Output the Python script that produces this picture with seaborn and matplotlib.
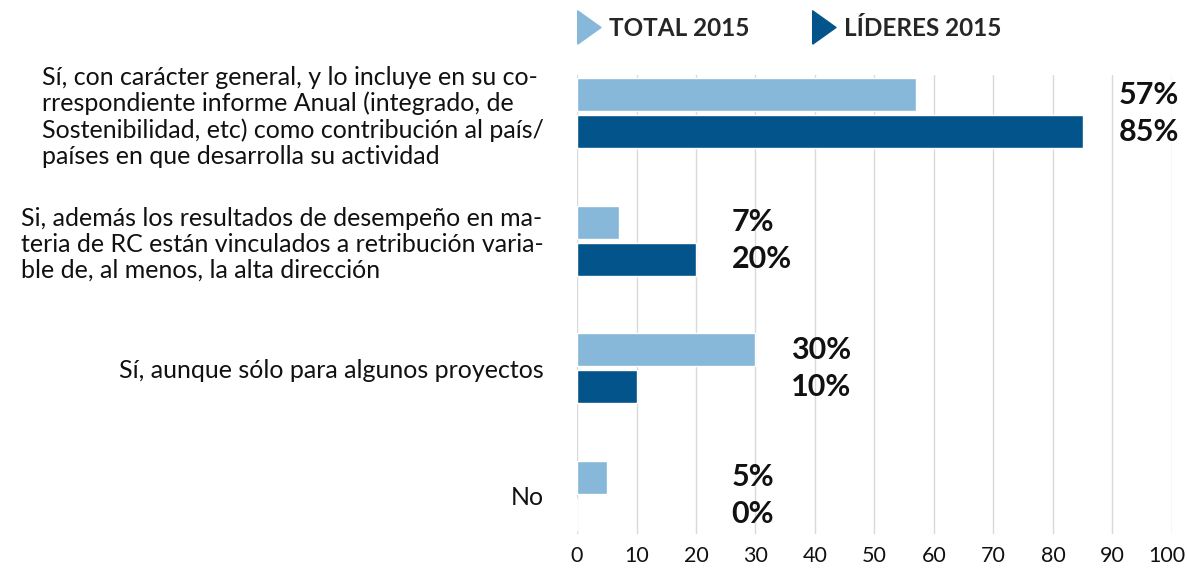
import matplotlib
matplotlib.use("Agg")
import matplotlib.pyplot as plt
import matplotlib.transforms as mtransforms
from matplotlib.lines import Line2D
import seaborn as sns
import pandas as pd

categories = [
    "Sí, con carácter general, y lo incluye en su co-\nrrespondiente informe Anual (integrado, de\nSostenibilidad, etc) como contribución al país/\npaíses en que desarrolla su actividad",
    "Si, además los resultados de desempeño en ma-\nteria de RC están vinculados a retribución varia-\nble de, al menos, la alta dirección",
    "Sí, aunque sólo para algunos proyectos",
    "No",
]
series_names = ["TOTAL 2015", "LÍDERES 2015"]
total_2015 = [57, 7, 30, 5]
lideres_2015 = [85, 20, 10, 0]
x_ticks = list(range(0, 101, 10))

colors = ["#87B7D9", "#02548A"]

df = pd.DataFrame({
    "cat": categories * 2,
    "serie": [series_names[0]] * 4 + [series_names[1]] * 4,
    "val": total_2015 + lideres_2015,
})

sns.set_theme(style="white")
plt.rcParams["font.family"] = ["Lato", "DejaVu Sans"]

fig = plt.figure(figsize=(11.87, 5.71), dpi=100)
ax = fig.add_axes([577 / 1187, 1 - 534 / 571, (1172 - 577) / 1187, (534 - 75) / 571])

sns.barplot(data=df, y="cat", x="val", hue="serie", order=categories,
            hue_order=series_names, palette=colors, orient="h",
            width=0.58, gap=0.1, legend=False, ax=ax, saturation=1)

ax.set_xlim(0, 100)
ax.set_ylim(3.3, -0.3)
ax.set_xticks(x_ticks)
ax.set_xticklabels([str(t) for t in x_ticks], fontsize=15.5, color="#111111")
ax.tick_params(axis="x", length=0, pad=9)
ax.tick_params(axis="y", length=0, pad=24)
# nudge the last tick label slightly left so it stays inside the figure
last = ax.get_xticklabels()[-1]
last.set_transform(last.get_transform() + mtransforms.ScaledTranslation(-5 / 100, 0, fig.dpi_scale_trans))
for lab in ax.get_yticklabels():
    lab.set_fontsize(18)
    lab.set_color("#111111")
    lab.set_ha("right")
    if "\n" in lab.get_text():
        lab.set_multialignment("left")
    lab.set_linespacing(1.16)
ax.set_xlabel("")
ax.set_ylabel("")
ax.grid(axis="x", color="#d9d9d9", linewidth=1)
ax.grid(axis="y", visible=False)
ax.set_axisbelow(True)
for s in ax.spines.values():
    s.set_visible(False)

# value labels
bw = 0.58 / 2
for i in range(len(categories)):
    xpos = max(max(total_2015[i], lideres_2015[i]) + 6, 26)
    for j, vals in enumerate([total_2015, lideres_2015]):
        ypos = i + (j - 0.5) * bw
        ax.text(xpos, ypos, f"{vals[i]}%", ha="left", va="center",
                fontsize=22, fontweight="bold", color="#111111", clip_on=False)

tri = [(-0.65, -1.0), (0.75, 0.0), (-0.65, 1.0), (-0.65, -1.0)]
handles = [Line2D([0], [0], marker=tri, linestyle="none", markersize=24,
                  markerfacecolor=c, markeredgecolor=c) for c in colors]
fig.legend(handles, series_names, loc="center left", bbox_to_anchor=(554 / 1187, 1 - 28 / 571),
           ncol=2, frameon=False, handlelength=1.0, handletextpad=0.35, columnspacing=2.55,
           prop={"weight": "bold", "size": 17.5})

fig.savefig("out.png", dpi=100)
